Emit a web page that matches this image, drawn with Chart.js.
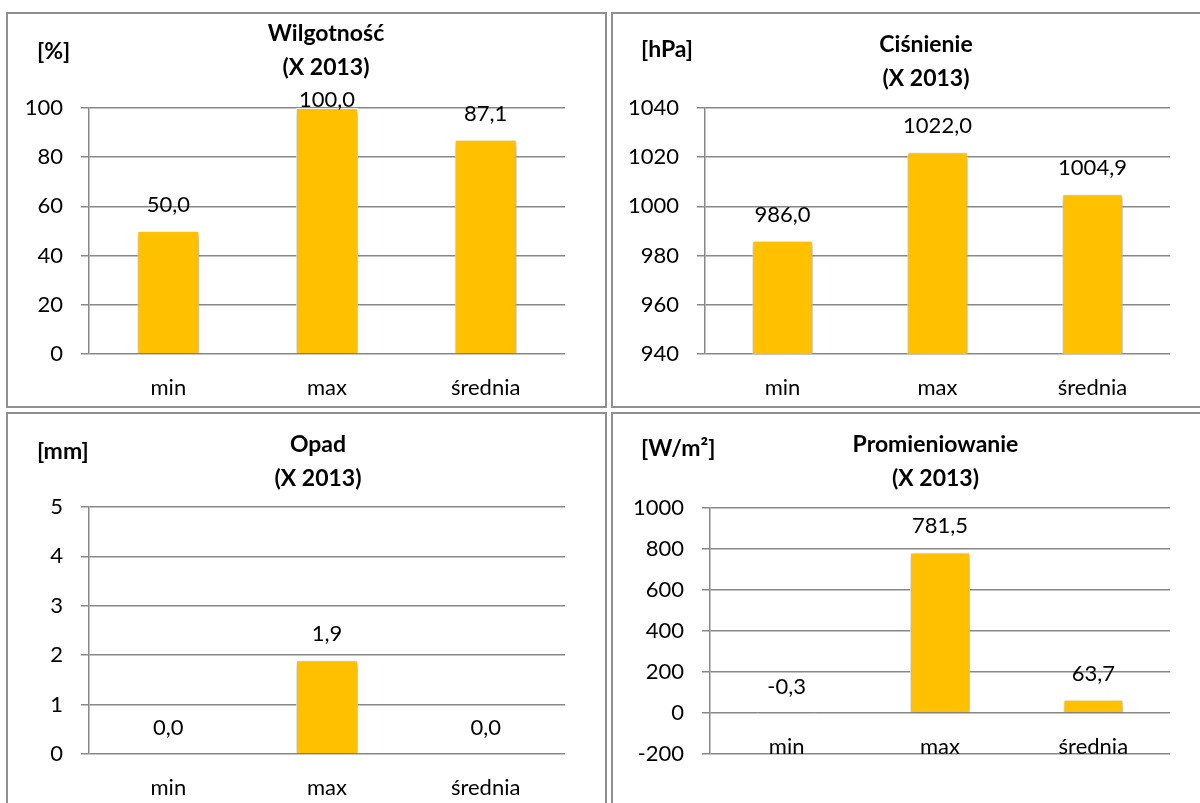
<!DOCTYPE html>
<html lang="pl">
<head>
<meta charset="utf-8">
<title>Wilgotność, ciśnienie, opad, promieniowanie (X 2013)</title>
<script src="https://cdn.jsdelivr.net/npm/chart.js@4.4.1/dist/chart.umd.min.js"></script>
<style>
  html, body { margin: 0; padding: 0; background: #fff; width: 1200px; height: 803px; overflow: hidden; }
  .panel { position: absolute; box-sizing: border-box; border: 2px solid #8f8f8f; width: 601px; height: 396px; }
  .box { position: absolute; width: 597px; height: 392px; }
</style>
</head>
<body>
<div class="panel" style="left:6px;top:12px"></div>
<div class="panel" style="left:611px;top:12px"></div>
<div class="panel" style="left:6px;top:412px"></div>
<div class="panel" style="left:611px;top:412px"></div>

<div class="box" style="left:8px;top:14px"><canvas id="humidityChart"></canvas></div>
<div class="box" style="left:613px;top:14px"><canvas id="pressureChart"></canvas></div>
<div class="box" style="left:8px;top:414px"><canvas id="rainChart"></canvas></div>
<div class="box" style="left:613px;top:414px"><canvas id="radiationChart"></canvas></div>

<script>
// Categories shared by all four charts
const categories = ['min', 'max', 'średnia'];

// Values per chart (X 2013)
const humidityValues = [50.0, 100.0, 87.1];
const pressureValues = [986.0, 1022.0, 1004.9];
const rainValues = [0.0, 1.9, 0.0];
const radiationValues = [-0.3, 781.5, 63.7];

// Y axis tick labels
const humidityTicks = [0, 20, 40, 60, 80, 100];
const pressureTicks = [940, 960, 980, 1000, 1020, 1040];
const rainTicks = [0, 1, 2, 3, 4, 5];
const radiationTicks = [-200, 0, 200, 400, 600, 800, 1000];

// Titles and units
const subtitle = '(X 2013)';
const humidityTitle = 'Wilgotność';
const pressureTitle = 'Ciśnienie';
const rainTitle = 'Opad';
const radiationTitle = 'Promieniowanie';
const humidityUnit = '[%]';
const pressureUnit = '[hPa]';
const rainUnit = '[mm]';
const radiationUnit = '[W/m²]';

const BAR_COLOR = '#FFC000';
const GRID_COLOR = '#888888';
const FONT_SIZE = 22;
const TITLE_FONT = 'bold 23px Lato, "Open Sans", sans-serif';

Chart.defaults.font.family = 'Lato, "Open Sans", sans-serif';
Chart.defaults.color = '#000';

// Polish decimal comma
function fmt(v) {
    return v.toFixed(1).replace('.', ',');
}

// Soft grey shadow under the bars
const barShadow = {
    id: 'barShadow',
    beforeDatasetDraw(chart) {
        const ctx = chart.ctx;
        ctx.save();
        ctx.shadowColor = 'rgba(0,0,0,0.4)';
        ctx.shadowBlur = 6;
        ctx.shadowOffsetX = 1;
        ctx.shadowOffsetY = 3;
    },
    afterDatasetDraw(chart) {
        chart.ctx.restore();
    }
};

// Value labels above the bars
const valueLabels = {
    id: 'valueLabels',
    afterDatasetsDraw(chart) {
        const { ctx, chartArea } = chart;
        const meta = chart.getDatasetMeta(0);
        const data = chart.data.datasets[0].data;
        ctx.save();
        ctx.font = FONT_SIZE + 'px ' + Chart.defaults.font.family;
        ctx.fillStyle = '#000';
        ctx.textAlign = 'center';
        ctx.textBaseline = 'alphabetic';
        meta.data.forEach((bar, i) => {
            const top = Math.min(bar.y, bar.base);
            const y = Math.max(top - 19, chartArea.top - 1);
            ctx.fillText(fmt(data[i]), bar.x, y);
        });
        ctx.restore();
    }
};

// Title lines and unit label
const panelText = {
    id: 'panelText',
    afterDraw(chart, args, opts) {
        const ctx = chart.ctx;
        ctx.save();
        ctx.fillStyle = '#000';
        ctx.font = TITLE_FONT;
        ctx.textBaseline = 'middle';
        ctx.textAlign = 'center';
        opts.lines.forEach((t, i) => ctx.fillText(t, opts.x, opts.ys[i]));
        ctx.textAlign = 'left';
        ctx.fillText(opts.unit, opts.unitX, opts.unitY);
        ctx.restore();
    }
};

function makeChart(id, values, ticks, title, unit, look) {
    return new Chart(document.getElementById(id), {
        type: 'bar',
        data: {
            labels: categories,
            datasets: [{
                data: values,
                backgroundColor: BAR_COLOR,
                borderColor: '#ffffff',
                borderWidth: 1,
                categoryPercentage: 0.78,
                barPercentage: 0.5
            }]
        },
        options: {
            responsive: true,
            maintainAspectRatio: false,
            animation: false,
            layout: { padding: { left: 0, top: look.padTop, right: 40, bottom: look.padBottom } },
            plugins: {
                legend: { display: false },
                tooltip: { enabled: false },
                title: { display: false },
                panelText: {
                    lines: [title, subtitle],
                    x: look.titleX,
                    ys: look.titleY,
                    unit: unit,
                    unitX: look.unitX,
                    unitY: look.unitY
                }
            },
            scales: {
                x: {
                    position: look.onZero ? { y: 0 } : 'bottom',
                    offset: true,
                    grid: { display: false, drawTicks: false },
                    border: { display: false },
                    ticks: { color: '#000', font: { size: FONT_SIZE }, padding: 21, maxRotation: 0, autoSkip: false },
                    afterFit: s => { s.height = 52; }
                },
                y: {
                    min: ticks[0],
                    max: ticks[ticks.length - 1],
                    afterBuildTicks: s => { s.ticks = ticks.map(v => ({ value: v })); },
                    grid: { color: GRID_COLOR, lineWidth: 1.5, drawTicks: true, tickLength: 8 },
                    border: { display: true, color: GRID_COLOR, width: 1.5 },
                    ticks: { color: '#000', font: { size: FONT_SIZE }, padding: 18, callback: v => String(v) },
                    afterFit: s => { s.width = look.axisWidth; }
                }
            }
        },
        plugins: [barShadow, valueLabels, panelText]
    });
}

makeChart('humidityChart', humidityValues, humidityTicks, humidityTitle, humidityUnit, {
    axisWidth: 81, padTop: 94, padBottom: 0, onZero: false,
    titleX: 318, titleY: [20, 53.5], unitX: 29, unitY: 38
});
makeChart('pressureChart', pressureValues, pressureTicks, pressureTitle, pressureUnit, {
    axisWidth: 92, padTop: 94, padBottom: 0, onZero: false,
    titleX: 313, titleY: [31, 64.5], unitX: 28, unitY: 35.5
});
makeChart('rainChart', rainValues, rainTicks, rainTitle, rainUnit, {
    axisWidth: 81, padTop: 93, padBottom: 0, onZero: false,
    titleX: 310, titleY: [30.5, 64.5], unitX: 29, unitY: 38
});
makeChart('radiationChart', radiationValues, radiationTicks, radiationTitle, radiationUnit, {
    axisWidth: 97, padTop: 93.5, padBottom: 52, onZero: true,
    titleX: 322.5, titleY: [30.5, 64.5], unitX: 28, unitY: 34.5
});
</script>
</body>
</html>
